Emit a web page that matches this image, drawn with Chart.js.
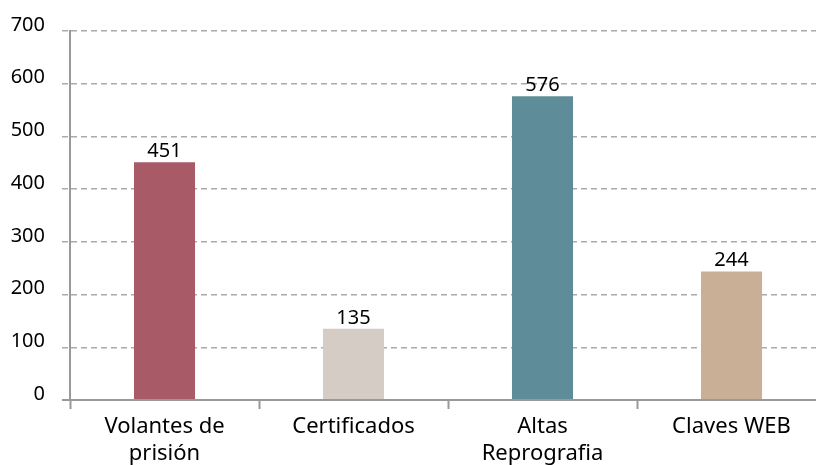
<!DOCTYPE html>
<html>
<head>
<meta charset="utf-8">
<script src="https://cdn.jsdelivr.net/npm/chart.js@4"></script>
<style>
  html, body { margin: 0; padding: 0; background: #fff; overflow: hidden; }
  #wrap { position: relative; width: 836px; height: 465px; }
</style>
</head>
<body>
<div id="wrap"><canvas id="chart"></canvas></div>
<script>
const categories = [['Volantes de', 'prisión'], 'Certificados', ['Altas', 'Reprografia'], 'Claves WEB'];
const values = [451, 135, 576, 244];
const barColors = ['#A85A66', '#D6CCC6', '#5E8D99', '#C8AF95'];
const yTicks = [0, 100, 200, 300, 400, 500, 600, 700];

const FONT = '"Noto Sans", "Open Sans", sans-serif';

// labels above each bar
const valueLabels = {
    id: 'valueLabels',
    afterDatasetsDraw(chart) {
        const ctx = chart.ctx;
        const meta = chart.getDatasetMeta(0);
        ctx.save();
        ctx.font = '20px ' + FONT;
        ctx.fillStyle = '#000';
        ctx.textAlign = 'center';
        ctx.textBaseline = 'bottom';
        meta.data.forEach((bar, i) => {
            ctx.fillText(values[i], bar.x, bar.y - 1);
        });
        ctx.restore();
    }
};

new Chart(document.getElementById('chart'), {
    type: 'bar',
    data: {
        labels: categories,
        datasets: [{
            data: values,
            backgroundColor: barColors,
            borderWidth: 0,
            categoryPercentage: 1,
            barPercentage: 0.323
        }]
    },
    options: {
        responsive: true,
        maintainAspectRatio: false,
        animation: false,
        layout: { padding: { top: 31, right: 10, left: 0, bottom: 0 } },
        plugins: {
            legend: { display: false },
            tooltip: { enabled: false }
        },
        scales: {
            x: {
                afterFit(scale) { scale.height = 65; },
                grid: {
                    drawOnChartArea: false,
                    drawTicks: true,
                    tickLength: 9,
                    color: '#999',
                    tickWidth: 2
                },
                border: { color: '#999', width: 2 },
                ticks: {
                    color: '#000',
                    padding: 5,
                    font: { family: FONT, size: 22, lineHeight: 1.2 },
                    maxRotation: 0,
                    autoSkip: false
                }
            },
            y: {
                min: 0,
                max: 700,
                afterFit(scale) { scale.width = 70; },
                afterBuildTicks(scale) {
                    scale.ticks = yTicks.map(v => ({ value: v }));
                },
                grid: {
                    color: ctx => ctx.tick && ctx.tick.value === 0 ? '#999' : '#aaa',
                    lineWidth: ctx => ctx.tick && ctx.tick.value === 0 ? 2 : 1.5,
                    tickLength: 8,
                    tickColor: ctx => ctx.tick && ctx.tick.value === 0 ? '#999' : '#aaa',
                    tickWidth: ctx => ctx.tick && ctx.tick.value === 0 ? 2 : 1.5,
                    tickBorderDash: ctx => ctx.tick && ctx.tick.value === 0 ? [] : [6, 4]
                },
                border: {
                    color: '#999',
                    width: 2,
                    dash: ctx => ctx.tick && ctx.tick.value === 0 ? [] : [6, 4]
                },
                ticks: {
                    color: '#000',
                    padding: 17,
                    labelOffset: -6,
                    font: { family: FONT, size: 20 }
                }
            }
        }
    },
    plugins: [valueLabels]
});
</script>
</body>
</html>
